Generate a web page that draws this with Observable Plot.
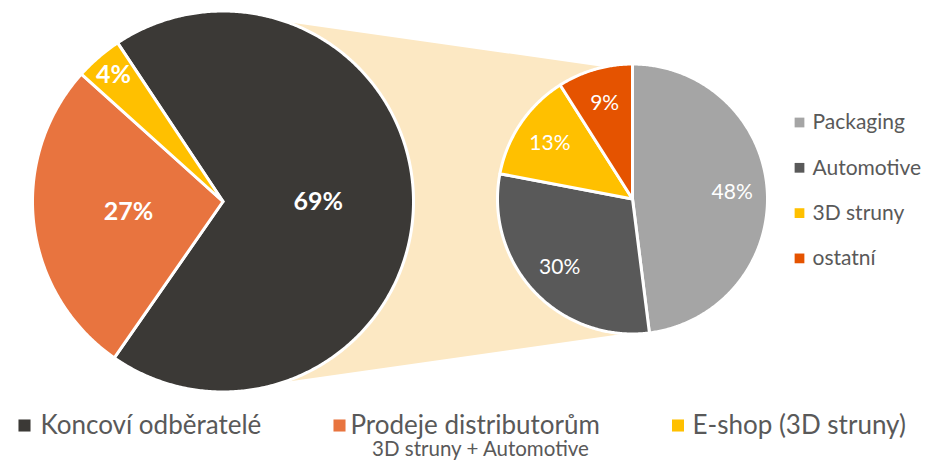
<!DOCTYPE html>
<html><head><meta charset="utf-8">
<script src="https://cdn.jsdelivr.net/npm/d3@7"></script>
<script src="https://cdn.jsdelivr.net/npm/@observablehq/plot@0.6"></script>
<style>html,body{margin:0;padding:0;background:#fff}svg{display:block}</style>
</head><body><div id="chart"></div>
<script>
// ---- data ----
const mainCategories = ["Koncoví odběratelé", "Prodeje distributorům", "E-shop (3D struny)"];
const mainValues = [69, 27, 4];
const mainNote = "3D struny + Automotive";
const detailCategories = ["Packaging", "Automotive", "3D struny", "ostatní"];
const detailValues = [48, 30, 13, 9];

// ---- styles ----
const mainColors = ["#3b3936", "#e8743f", "#ffc000"];
const detailColors = ["#a5a5a5", "#595959", "#ffc000", "#e55300"];
const bandColor = "#fce8c3";
const textColor = "#595959";
const font = 'Lato, "Open Sans", sans-serif';

// ---- layout ----
const W = 928, H = 461;
const mainPie = {cx: 222.5, cy: 201, r: 190.5, start: -33.6, labelR: 0.5, smallLabelR: 0.88};
const detailPie = {cx: 632, cy: 198.5, r: 135, start: 0, labelR: 0.74, smallLabelR: 0.74};
const band = {mainTop: 19.5, mainBottom: 161.6, detailTop: -12.1, detailBottom: 183.7};
const rad = Math.PI / 180;

function onCircle(p, deg, f = 1) {
  return {x: p.cx + p.r * f * Math.sin(deg * rad), y: p.cy - p.r * f * Math.cos(deg * rad)};
}

function buildPie(cats, vals, p, key) {
  const total = d3.sum(vals);
  const arcs = d3.pie().sort(null).value(d => d)
    .startAngle(p.start * rad).endAngle(p.start * rad + 2 * Math.PI)(vals);
  const pts = [], labels = [];
  arcs.forEach((a, i) => {
    const id = key + i;
    pts.push({id, cat: cats[i], x: p.cx, y: p.cy});
    const n = Math.max(2, Math.ceil((a.endAngle - a.startAngle) / (Math.PI / 360)));
    for (let k = 0; k <= n; k++) {
      const t = a.startAngle + (a.endAngle - a.startAngle) * k / n;
      pts.push({id, cat: cats[i], x: p.cx + p.r * Math.sin(t), y: p.cy - p.r * Math.cos(t)});
    }
    const share = vals[i] / total;
    const mid = (a.startAngle + a.endAngle) / 2 / rad;
    const c = onCircle(p, mid, share < 0.05 ? p.smallLabelR : p.labelR);
    labels.push({x: c.x, y: c.y, text: Math.round(share * 100) + "%"});
  });
  return {pts, labels};
}

const main = buildPie(mainCategories, mainValues, mainPie, "m");
const detail = buildPie(detailCategories, detailValues, detailPie, "d");

const bandPts = [
  onCircle(mainPie, band.mainTop),
  onCircle(detailPie, band.detailTop),
  onCircle(detailPie, band.detailBottom),
  onCircle(mainPie, band.mainBottom)
];

// legends
const rightLegend = detailCategories.map((c, i) => ({cat: c, x: 799, tx: 812, y: 122 + i * 45.3}));
const bottomSquareX = [24, 339, 677.5];
const bottomTextX = [40, 350, 692];
const bottomLegend = mainCategories.map((c, i) => ({cat: c, x: bottomSquareX[i], tx: bottomTextX[i], y: 425}));
const noteRow = [{text: mainNote, x: 480, y: 449}];

const chart = Plot.plot({
  width: W, height: H, margin: 0,
  x: {type: "identity", axis: null},
  y: {type: "identity", axis: null},
  color: {domain: [...mainCategories, ...detailCategories], range: [...mainColors, ...detailColors]},
  style: {fontFamily: font, background: "#fff"},
  marks: [
    Plot.line(bandPts, {x: "x", y: "y", fill: bandColor, stroke: "none", curve: "linear-closed"}),
    Plot.line(main.pts, {x: "x", y: "y", z: "id", fill: "cat", stroke: "#fff", strokeWidth: 3, strokeLinejoin: "round", curve: "linear-closed"}),
    Plot.line(detail.pts, {x: "x", y: "y", z: "id", fill: "cat", stroke: "#fff", strokeWidth: 3, strokeLinejoin: "round", curve: "linear-closed"}),
    Plot.text(main.labels, {x: "x", y: "y", text: "text", fill: "#fff", fontSize: 25, fontWeight: "bold"}),
    Plot.text(detail.labels, {x: "x", y: "y", text: "text", fill: "#fff", fontSize: 21}),
    Plot.dot(rightLegend, {x: "x", y: "y", fill: "cat", symbol: "square", r: 5.5, stroke: "none"}),
    Plot.text(rightLegend, {x: "tx", y: "y", text: "cat", fill: textColor, fontSize: 21, textAnchor: "start"}),
    Plot.dot(bottomLegend, {x: "x", y: "y", fill: "cat", symbol: "square", r: 6.8, stroke: "none"}),
    Plot.text(bottomLegend, {x: "tx", y: "y", text: "cat", fill: textColor, fontSize: 26, textAnchor: "start"}),
    Plot.text(noteRow, {x: "x", y: "y", text: "text", fill: textColor, fontSize: 20.5})
  ]
});
document.getElementById("chart").append(chart);
</script>
</body></html>
